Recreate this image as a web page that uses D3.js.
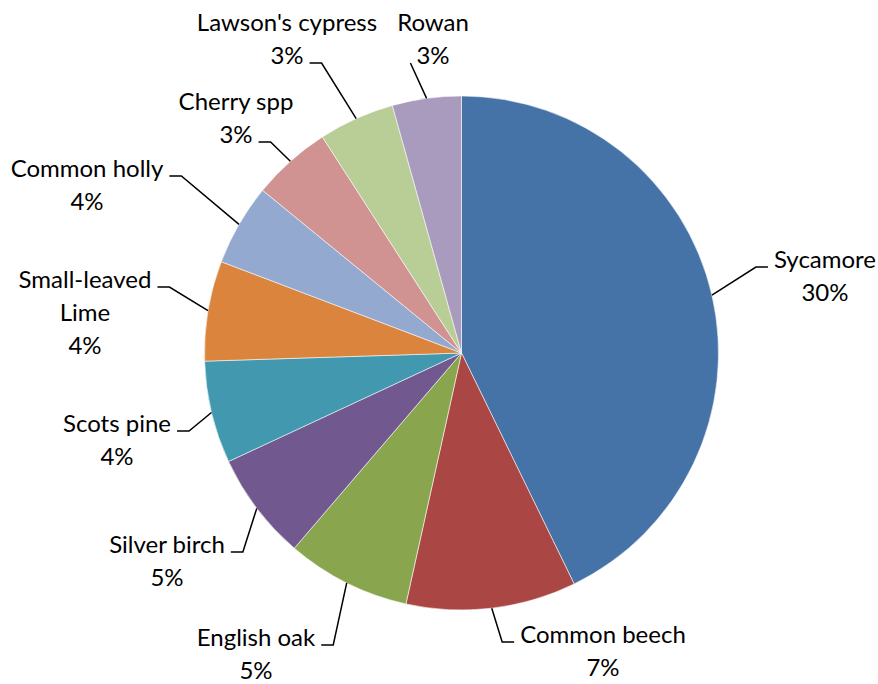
<!DOCTYPE html>
<html>
<head>
<meta charset="utf-8">
<script src="https://cdn.jsdelivr.net/npm/d3@7"></script>
<style>
  body { margin: 0; background: #fff; }
  svg text { font-family: Lato, "Open Sans", sans-serif; fill: #000; }
</style>
</head>
<body>
<svg id="chart" width="878" height="684"></svg>
<script>
var species = ["Sycamore", "Common beech", "English oak", "Silver birch", "Scots pine",
               "Small-leaved Lime", "Common holly", "Cherry spp", "Lawson's cypress", "Rowan"];
var shares = [29.6, 7.4, 5.4, 4.7, 4.45, 4.35, 3.55, 3.45, 3.3, 3.0];
var colours = ["#4572A7", "#AA4643", "#89A54E", "#71588F", "#4198AF",
               "#DB843D", "#93A9CF", "#D19392", "#B9CD96", "#A99BBD"];

// where excel put each label (centre x, first baseline), which line the leader hooks to
var labelLayout = [
  {x: 825, y: 268, hook: 0},
  {x: 603, y: 643, hook: 0},
  {x: 256, y: 646, hook: 0},
  {x: 167, y: 553, hook: 0},
  {x: 117, y: 432, hook: 0},
  {x: 85,  y: 288, hook: 0, wrap: true},
  {x: 87,  y: 177, hook: 0},
  {x: 236, y: 110, hook: 1},
  {x: 287, y: 31,  hook: 1},
  {x: 433, y: 31,  hook: 1}
];

var cx = 461.5, cy = 353, radius = 257, lineH = 33;

var data = species.map(function(s, i) {
  return {name: s, value: shares[i], colour: colours[i], layout: labelLayout[i]};
});

var svg = d3.select("#chart");
var g = svg.append("g").attr("transform", "translate(" + cx + "," + cy + ")");

var pie = d3.pie().sort(null).value(function(d) { return d.value; });
var arc = d3.arc().innerRadius(0).outerRadius(radius);
var arcs = pie(data);

g.selectAll("path.slice")
    .data(arcs)
  .enter().append("path")
    .attr("class", "slice")
    .attr("d", arc)
    .style("fill", function(d) { return d.data.colour; })
    .style("stroke", "#fff")
    .style("stroke-width", 0.8)
    .style("stroke-opacity", 0.7);

var labels = svg.append("g");

arcs.forEach(function(a) {
  var L = a.data.layout;
  var lines = L.wrap ? a.data.name.split(" ") : [a.data.name];
  lines.push(Math.round(a.data.value) + "%");

  var t = labels.append("text")
      .attr("text-anchor", "middle")
      .style("font-size", "24px");
  var spans = lines.map(function(line, i) {
    return t.append("tspan")
        .attr("x", L.x)
        .attr("y", L.y + i * lineH)
        .text(line);
  });

  // leader line: from the arc at the slice's mid angle to the hooked text line
  var mid = (a.startAngle + a.endAngle) / 2;
  var sx = cx + radius * Math.sin(mid), sy = cy - radius * Math.cos(mid);
  var w = spans[L.hook].node().getComputedTextLength();
  var hy = L.y + L.hook * lineH - 1;
  var right = L.x > sx;
  var ex = right ? L.x - w / 2 - 6 : L.x + w / 2 + 6;
  var bx = right ? ex - 12 : ex + 12;
  var pts = [[sx, sy]];
  if ((bx - sx) * (ex - bx) > 0) pts.push([bx, hy]);
  pts.push([ex, hy]);

  labels.append("path")
      .attr("d", d3.line()(pts))
      .style("fill", "none")
      .style("stroke", "#000")
      .style("stroke-width", 1.5);
});
</script>
</body>
</html>
